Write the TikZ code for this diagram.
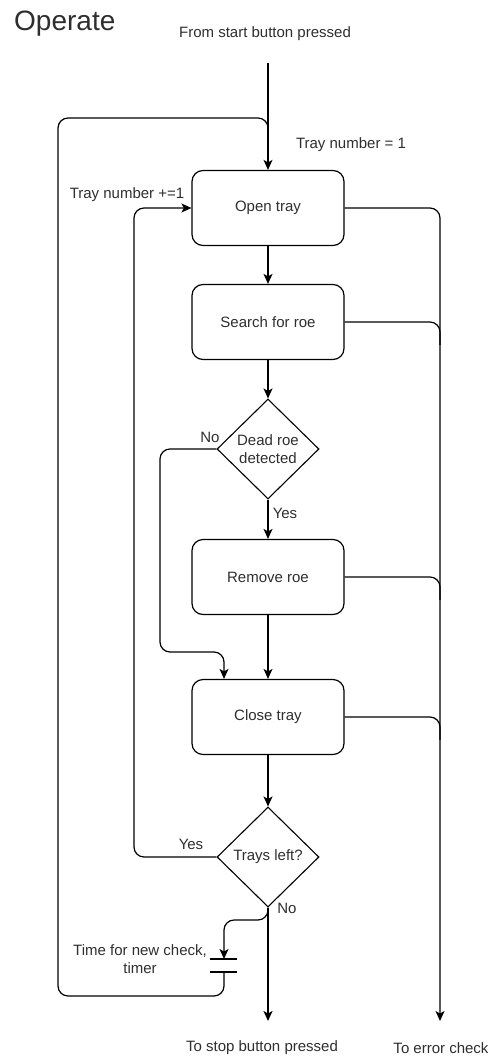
\documentclass[tikz,border=0pt]{standalone}
\usepackage{fontspec}
\setmainfont{Liberation Sans}
\usetikzlibrary{arrows.meta,shapes.geometric}
\begin{document}
\begin{tikzpicture}[x=1pt,y=-1pt,
  txt/.style={text=black!82,font=\fontsize{15}{18}\selectfont,inner sep=0pt},
  stepbox/.style={draw,rounded corners=11pt,line width=1.2pt,minimum width=152pt,minimum height=75pt,
    text=black!82,font=\fontsize{15}{18}\selectfont},
  decision/.style={draw,diamond,aspect=1,line width=1.1pt,minimum width=102pt,minimum height=100pt,inner sep=0pt,
    text=black!82,font=\fontsize{15}{18}\selectfont,align=center},
  link/.style={line width=1.2pt,rounded corners=10pt},
  arr/.style={link,-{Stealth[length=10pt,width=9pt,inset=2.5pt]}}]
\useasboundingbox (0,0) rectangle (490,1057);

% headings and free labels
\node[txt,anchor=base west,font=\fontsize{28}{32}\selectfont] (title) at (14,31) {Operate};
\node[txt] (from) at (265,34) {From start button pressed};
\node[txt] (tray1) at (351,145) {Tray number = 1};
\node[txt] (trayinc) at (127,195) {Tray number +=1};

% process steps
\node[stepbox] (open) at (268,208) {Open tray};
\node[stepbox] (search) at (268,322) {Search for roe};
\node[decision] (dead) at (268,449) {Dead roe\\detected};
\node[stepbox] (remove) at (268,577) {Remove roe};
\node[stepbox] (close) at (268,717) {Close tray};
\node[decision] (left) at (268,857) {Trays left?};

\node[txt] (nodead) at (210,437) {No};
\node[txt] (yesdead) at (285,513) {Yes};
\node[txt] (yesleft) at (191,844) {Yes};
\node[txt] (noleft) at (287,908) {No};

% timer
\node[txt,align=center] (timertxt) at (140,959) {Time for new check,\\timer};
\coordinate (tA) at (224,959);
\coordinate (tB) at (224,972);
\draw[line width=1.2pt] ([xshift=-14pt]tA) -- ([xshift=13pt]tA);
\draw[line width=1.2pt] ([xshift=-14pt]tB) -- ([xshift=13pt]tB);

% exits
\node[txt] (stop) at (262,1048) {To stop button pressed};
\node[txt] (err) at (441,1048) {To error check};
\coordinate (startin) at (268,63);
\coordinate (stopin) at (268,1021);
\coordinate (errin) at (440,1021);

% main flow
\draw[arr] (startin) -- (open.north);
\draw[arr] (open.south) -- (search.north);
\draw[arr] (search.south) -- (dead.north);
\draw[arr] (dead.south) -- (remove.north);
\draw[arr] (remove.south) -- (close.north);
\draw[arr] (close.south) -- (left.north);
\draw[arr] (left.south) -- (stopin);

% no dead roe: skip removal
\draw[arr] (dead.west) -- (160,449) -- (160,652) -- (224,652) -- ([xshift=-44pt]close.north);

% trays left: next tray
\draw[arr] (left.west) -- (134,857) -- (134,208) -- (open.west);

% no trays left: wait for timer and restart
\draw[arr] (left.south) -- (268,920) -- (224,920) -- (tA);
\draw[link] (tB) -- (224,996) -- (58,996) -- (58,118) -- (268,118) -- (268,132);

% error check branches
\draw[arr] (open.east) -- (440,208) -- (errin);
\draw[link] (search.east) -- (440,322) -- (440,345);
\draw[link] (remove.east) -- (440,577) -- (440,600);
\draw[link] (close.east) -- (440,717) -- (440,740);
\end{tikzpicture}
\end{document}
